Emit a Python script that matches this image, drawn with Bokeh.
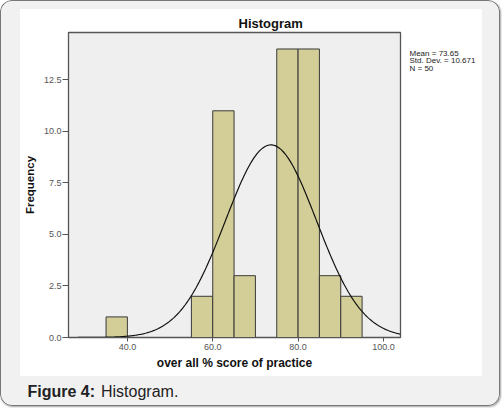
import numpy as np
from bokeh.plotting import figure
from bokeh.models import Label, FixedTicker, Range1d
from bokeh.embed import file_html
from bokeh.resources import INLINE

# histogram bins (left edge) and counts
bin_left = [35, 55, 60, 65, 75, 80, 85, 90]
counts = [1, 2, 11, 3, 14, 14, 3, 2]
bin_width = 5

# stats shown on the chart
mean = 73.65
std_dev = 10.671
n = 50

y_ticks = [0, 2.5, 5.0, 7.5, 10.0, 12.5]
x_ticks = [40, 60, 80, 100]

W, H = 500, 406
FL, FR, FT, FB = 68, 400, 32, 337   # plot frame in page pixels
X0, X1, Y0, Y1 = 26.2, 104.0, 0.0, 14.8
FONT = "Liberation Sans"

p = figure(width=W, height=H, output_backend="svg", toolbar_location=None,
           x_range=Range1d(X0, X1), y_range=Range1d(Y0, Y1),
           min_border_left=FL, min_border_right=W - FR, min_border_top=FT,
           min_border_bottom=H - FB, title="Histogram")

# grey rounded card with a white panel, drawn by css behind a transparent border
p.border_fill_alpha = 0
p.styles = {
    "border-radius": "12px",
    "background": "linear-gradient(#ffffff, #ffffff) 20px 9px / 462px 367px no-repeat, #f1f1f1",
    "box-shadow": "inset 0 0 0 1px #777777, 1px 1px 2px rgba(0,0,0,0.35)",
}
p.background_fill_color = "#efefef"
p.outline_line_color = "#555555"
p.outline_line_width = 1.3
p.grid.grid_line_color = None


# page pixel -> data coords (so labels in side panels land where wanted)
def dx(x):
    return X0 + (x - FL) / (FR - FL) * (X1 - X0)


def dy(y):
    return Y0 + (FB - y) / (FB - FT) * (Y1 - Y0)


right = [l + bin_width for l in bin_left]
p.quad(left=bin_left, right=right, bottom=0, top=counts,
       fill_color="#d3ce97", line_color="#3a3a3a", line_width=1)

# normal curve from the reported mean / sd
xs = np.linspace(X0, X1, 300)
ys = n * bin_width * np.exp(-0.5 * ((xs - mean) / std_dev) ** 2) / (std_dev * np.sqrt(2 * np.pi))
p.line(xs, ys, line_color="#111111", line_width=1.2)

p.title.align = "left"
p.title.offset = 170
p.title.text_font = FONT
p.title.text_font_size = "13px"
p.title.text_font_style = "bold"
p.title.text_color = "#111111"
p.title.standoff = 3

p.yaxis.ticker = FixedTicker(ticks=y_ticks)
p.xaxis.ticker = FixedTicker(ticks=x_ticks)
p.yaxis.major_label_overrides = {t: "%.1f" % t for t in y_ticks}
p.xaxis.major_label_overrides = {t: "%.1f" % t for t in x_ticks}
p.yaxis.axis_label = "Frequency"
p.xaxis.axis_label = "over all % score of practice"
for ax in (p.xaxis, p.yaxis):
    ax.axis_line_color = "#555555"
    ax.major_tick_line_color = "#555555"
    ax.major_tick_in = 0
    ax.minor_tick_line_color = None
    ax.major_label_text_font = FONT
    ax.major_label_text_font_size = "9px"
    ax.major_label_text_color = "#555555"
    ax.axis_label_text_font = FONT
    ax.axis_label_text_font_style = "bold"
    ax.axis_label_text_color = "#111111"
p.xaxis.major_tick_out = 4
p.yaxis.major_tick_out = 6
p.xaxis.major_label_standoff = 2
p.yaxis.major_label_standoff = 1
p.xaxis.axis_label_text_font_size = "12px"
p.yaxis.axis_label_text_font_size = "11.5px"
p.xaxis.axis_label_standoff = 3
p.yaxis.axis_label_standoff = 5

stats = "Mean = %.2f\nStd. Dev. = %.3f\nN = %d" % (mean, std_dev, n)
p.add_layout(Label(x=dx(409), y=dy(48), text=stats, text_font=FONT,
                   text_font_size="8px", text_line_height=0.85,
                   text_color="#222222", text_baseline="top"), "right")

p.add_layout(Label(x=dx(27), y=dy(391), text="Figure 4:", text_font=FONT,
                   text_font_size="16px", text_font_style="bold",
                   text_color="#222222", text_baseline="middle"), "below")
p.add_layout(Label(x=dx(100.5), y=dy(391), text="Histogram.", text_font=FONT,
                   text_font_size="16px", text_color="#222222",
                   text_baseline="middle"), "below")

open("out.html", "w").write(file_html(p, INLINE))
